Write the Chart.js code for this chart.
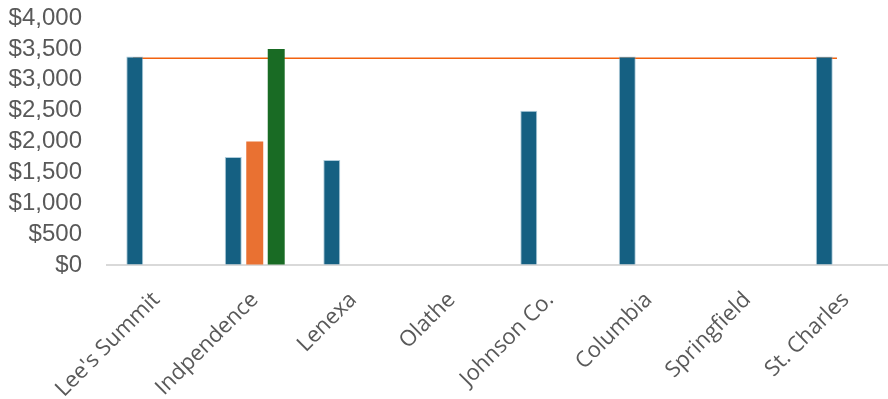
<!DOCTYPE html>
<html>
<head>
<meta charset="utf-8">
<script src="https://cdn.jsdelivr.net/npm/chart.js@4.4.0/dist/chart.umd.min.js"></script>
<style>
  html, body { margin: 0; padding: 0; background: #fff; overflow: hidden; }
  #wrap { width: 895px; height: 399px; }
</style>
</head>
<body>
<div id="wrap"><canvas id="officeChart"></canvas></div>
<script>
// Chart data
const categories = ["Lee's Summit", 'Indpendence', 'Lenexa', 'Olathe', 'Johnson Co.', 'Columbia', 'Springfield', 'St. Charles'];
const seriesBlue = [3375, 1750, 1700, null, 2500, 3375, null, 3375];
const seriesOrange = [null, 2000, null, null, null, null, null, null];
const seriesGreen = [null, 3500, null, null, null, null, null, null];
const targetValue = 3350;
const targetFrom = 0;   // category index where the target line starts
const targetTo = 7;     // category index where it ends
const yTicks = [0, 500, 1000, 1500, 2000, 2500, 3000, 3500, 4000];

const textColor = '#595959';

const ctx = document.getElementById('officeChart').getContext('2d');
new Chart(ctx, {
  type: 'bar',
  data: {
    labels: categories,
    datasets: [
      {
        label: 'Series 1',
        indexAxis: 'x',
        data: seriesBlue,
        backgroundColor: '#156082',
        borderColor: 'rgba(120,170,195,0.6)',
        borderWidth: 1
      },
      {
        label: 'Series 2',
        indexAxis: 'x',
        data: seriesOrange,
        backgroundColor: '#E97132'
      },
      {
        label: 'Series 3',
        indexAxis: 'x',
        data: seriesGreen,
        backgroundColor: '#196B24'
      },
      {
        // target line sits on its own hidden x axis (like Excel's secondary axis)
        type: 'line',
        label: 'Target',
        indexAxis: 'x',
        xAxisID: 'x2',
        data: [{ x: targetFrom, y: targetValue }, { x: targetTo, y: targetValue }],
        borderColor: '#F2620F',
        borderWidth: 1.5,
        pointRadius: 0,
        fill: false
      }
    ]
  },
  options: {
    // chart-level indexAxis 'y' keeps the hidden x2 axis out of the bar grouping count
    indexAxis: 'y',
    responsive: true,
    maintainAspectRatio: false,
    animation: false,
    layout: { padding: { top: 18, right: 0, bottom: 0, left: 0 } },
    categoryPercentage: 0.654,
    barPercentage: 0.79,
    skipNull: false,
    plugins: {
      legend: { display: false },
      tooltip: { enabled: false }
    },
    scales: {
      x: {
        type: 'category',
        offset: true,
        grid: { drawOnChartArea: false, drawTicks: false },
        border: { display: true, color: '#D9D9D9', width: 2 },
        ticks: {
          color: textColor,
          font: { family: 'Open Sans', size: 22 },
          maxRotation: 45,
          minRotation: 45,
          padding: 22,
          autoSkip: false
        },
        afterFit: function(scale) { scale.height = 134; }
      },
      x2: {
        type: 'linear',
        display: false,
        offset: false,
        min: -0.2585,
        max: 7.577
      },
      y: {
        type: 'linear',
        offset: false,
        min: 0,
        max: 4000,
        afterBuildTicks: function(scale) {
          scale.ticks = yTicks.map(v => ({ value: v }));
        },
        grid: { display: true, drawOnChartArea: false, drawTicks: true, tickLength: 25, tickColor: 'transparent' },
        border: { display: false },
        ticks: {
          color: textColor,
          font: { family: 'Liberation Sans', size: 24 },
          padding: 0,
          autoSkip: false,
          callback: function(v) { return '$' + Number(v).toLocaleString('en-US'); }
        },
        afterFit: function(scale) { scale.width = 107; }
      }
    }
  }
});
</script>
</body>
</html>
